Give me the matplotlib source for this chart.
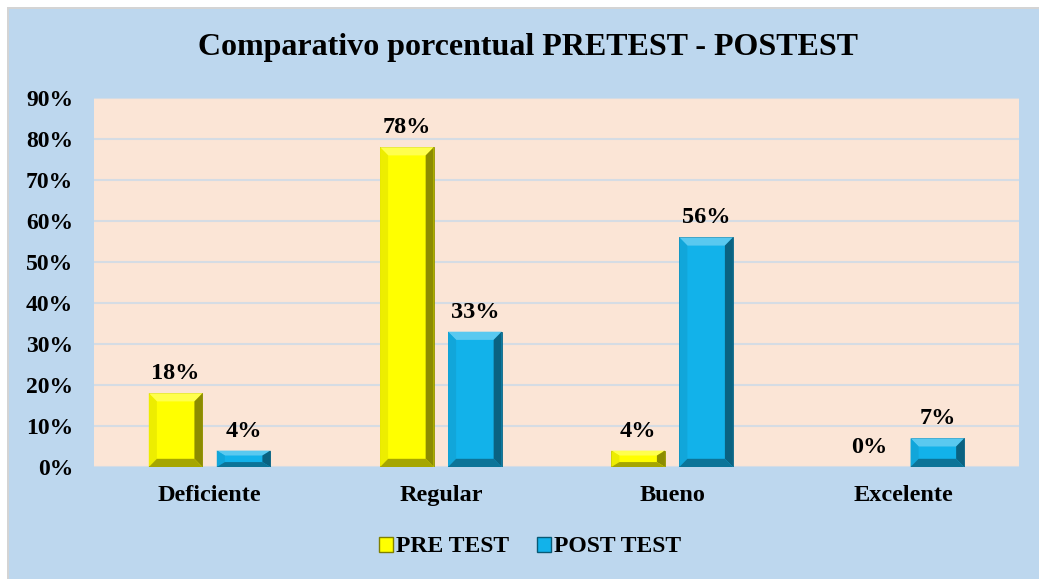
import matplotlib.pyplot as plt
from matplotlib.patches import Rectangle, Polygon
import numpy as np

categories = ['Deficiente', 'Regular', 'Bueno', 'Excelente']
pre_test = [18, 78, 4, 0]
post_test = [4, 33, 56, 7]
series_names = ['PRE TEST', 'POST TEST']
y_ticks = [0, 10, 20, 30, 40, 50, 60, 70, 80, 90]

plt.rcParams['font.family'] = ['Liberation Serif', 'DejaVu Serif']
plt.rcParams['font.weight'] = 'bold'

BG = '#BDD7EE'
PLOT_BG = '#FBE5D6'
YELLOW = '#FFFF00'
BLUE = '#12B2EA'

fig = plt.figure(figsize=(10.39, 5.79), dpi=100)
fig.patch.set_facecolor('white')
# chart area with a grey shadow edge at top/left
fig.patches.append(Rectangle((7/1039, 0), 1, 1 - 7/579, transform=fig.transFigure,
                             facecolor='#D4D4D4', edgecolor='none', zorder=-2))
fig.patches.append(Rectangle((9/1039, 0), 1, 1 - 9/579, transform=fig.transFigure,
                             facecolor=BG, edgecolor='none', zorder=-1))

ax = fig.add_axes([94/1039, 112/579, 925/1039, 369/579])
ax.set_facecolor(PLOT_BG)

x = np.arange(len(categories))
w = 0.232
off = 0.147


def shade(c, f):
    c = np.array(plt.matplotlib.colors.to_rgb(c))
    if f > 1:
        return tuple(c + (1 - c) * (f - 1))
    return tuple(c * f)


def bevel_bars(xs, vals, color):
    bars = ax.bar(xs, vals, w, color=color, edgecolor=shade(color, 0.55), linewidth=0.6, zorder=3)
    bx = w * 0.15
    for b in bars:
        x0, x1 = b.get_x(), b.get_x() + b.get_width()
        h = b.get_height()
        if h <= 0:
            continue
        by = min(2.0, h * 0.3)
        ix0, ix1 = x0 + bx, x1 - bx
        top, itop = h, h - by
        bot, ibot = 0, by
        polys = [
            ([(x0, top), (x1, top), (ix1, itop), (ix0, itop)], shade(color, 1.3)),
            ([(x0, bot), (x0, top), (ix0, itop), (ix0, ibot)], shade(color, 0.93)),
            ([(x1, bot), (x1, top), (ix1, itop), (ix1, ibot)], shade(color, 0.55)),
            ([(x0, bot), (x1, bot), (ix1, ibot), (ix0, ibot)], shade(color, 0.65)),
        ]
        for pts, c in polys:
            ax.add_patch(Polygon(pts, closed=True, facecolor=c, edgecolor='none', zorder=4))
    for xi, v in zip(xs, vals):
        ax.text(xi, v + 2.2, f'{v}%', ha='center', va='bottom', fontsize=17.5,
                fontweight='bold', zorder=5)
    return bars


bevel_bars(x - off, pre_test, YELLOW)
bevel_bars(x + off, post_test, BLUE)

ax.set_xlim(-0.5, len(categories) - 0.5)
ax.set_ylim(0, 90)
ax.set_yticks(y_ticks)
ax.set_yticklabels([f'{t}%' for t in y_ticks], fontsize=17, fontweight='bold')
ax.set_xticks(x)
ax.set_xticklabels(categories, fontsize=17.5, fontweight='bold')
ax.tick_params(length=0)
ax.tick_params(axis='x', pad=13)
ax.tick_params(axis='y', pad=15)
ax.grid(axis='y', color='#D5DCE4', linewidth=1.5, zorder=0)
ax.set_axisbelow(True)
for s in ax.spines.values():
    s.set_visible(False)

fig.suptitle('Comparativo porcentual PRETEST - POSTEST', x=528/1039, y=1 - 47/579,
             va='center', fontsize=23, fontweight='bold')

handles = [Rectangle((0, 0), 1, 1, facecolor=YELLOW, edgecolor=shade(YELLOW, 0.5)),
           Rectangle((0, 0), 1, 1, facecolor=BLUE, edgecolor=shade(BLUE, 0.5))]
fig.legend(handles, series_names, loc='center', bbox_to_anchor=(530/1039, 1 - 547/579),
           ncol=2, frameon=False, handlelength=0.6, handleheight=0.6,
           handletextpad=0.1, columnspacing=1.2, prop={'weight': 'bold', 'size': 17})

fig.savefig('out.png', dpi=100, facecolor=fig.get_facecolor())
